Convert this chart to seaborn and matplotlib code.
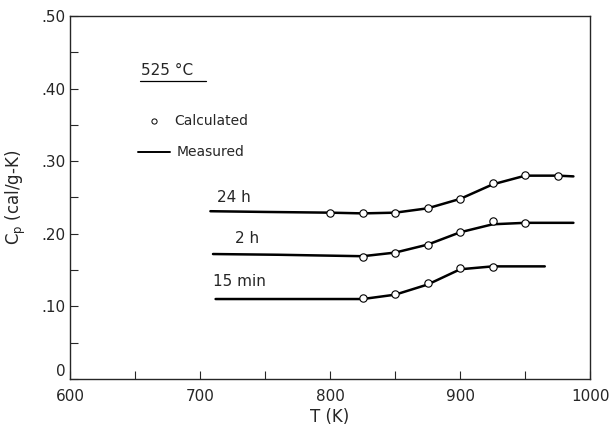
import numpy as np
import pandas as pd
import seaborn as sns
import matplotlib.pyplot as plt

# Calculated points (T in K, Cp in cal/g-K)
calc_T_24h = [800, 825, 850, 875, 900, 925, 950, 975]
calc_cp_24h = [0.229, 0.228, 0.229, 0.235, 0.248, 0.270, 0.281, 0.280]
calc_T_2h = [825, 850, 875, 900, 925, 950]
calc_cp_2h = [0.168, 0.174, 0.185, 0.203, 0.218, 0.215]
calc_T_15m = [825, 850, 875, 900, 925]
calc_cp_15m = [0.111, 0.117, 0.132, 0.153, 0.154]

# Measured curves
meas_T_24h = [708, 750, 800, 825, 850, 875, 900, 925, 950, 975, 987]
meas_cp_24h = [0.231, 0.230, 0.229, 0.228, 0.229, 0.235, 0.248, 0.268, 0.280, 0.280, 0.279]
meas_T_2h = [710, 760, 825, 850, 875, 900, 925, 950, 987]
meas_cp_2h = [0.172, 0.171, 0.169, 0.174, 0.185, 0.202, 0.213, 0.215, 0.215]
meas_T_15m = [712, 800, 825, 850, 875, 900, 925, 965]
meas_cp_15m = [0.110, 0.110, 0.110, 0.116, 0.130, 0.151, 0.155, 0.155]

curve_labels = ["24 h", "2 h", "15 min"]
label_pos = [(726, 0.240), (736, 0.183), (730, 0.124)]

sns.set_style("ticks")
plt.rcParams["font.family"] = ["DejaVu Sans"]

fig = plt.figure(figsize=(6.13, 4.32), dpi=100)
ax = fig.add_axes([0.114, 0.123, 0.849, 0.840])

for T, cp in [(meas_T_24h, meas_cp_24h), (meas_T_2h, meas_cp_2h), (meas_T_15m, meas_cp_15m)]:
    sns.lineplot(x=T, y=cp, ax=ax, color="black", linewidth=1.8, sort=False, zorder=2)

for T, cp in [(calc_T_24h, calc_cp_24h), (calc_T_2h, calc_cp_2h), (calc_T_15m, calc_cp_15m)]:
    sns.scatterplot(x=T, y=cp, ax=ax, marker="o", s=28, facecolor="white",
                    edgecolor="black", linewidth=0.8, zorder=3)

for lab, (x, y) in zip(curve_labels, label_pos):
    ax.text(x, y, lab, ha="center", va="bottom", fontsize=11)

# annotation / legend
ax.text(655, 0.415, "525 °C", fontsize=11, ha="left", va="bottom")
ax.plot([654, 705], [0.411, 0.411], color="black", linewidth=0.9)
ax.scatter([665], [0.355], marker="o", s=14, facecolor="white", edgecolor="black", linewidth=0.7)
ax.text(680, 0.355, "Calculated", fontsize=10, va="center")
ax.plot([652, 677], [0.312, 0.312], color="black", linewidth=1.4)
ax.text(682, 0.312, "Measured", fontsize=10, va="center")

ax.set_xlim(600, 1000)
ax.set_ylim(0, 0.5)
ax.set_xticks([600, 700, 800, 900, 1000])
ax.set_xticks(np.arange(650, 1000, 100), minor=True)
ax.set_yticks([0, 0.1, 0.2, 0.3, 0.4, 0.5])
ax.set_yticklabels(["0", ".10", ".20", ".30", ".40", ".50"])
ax.set_yticks(np.arange(0.05, 0.5, 0.1), minor=True)
ax.tick_params(which="both", direction="in", top=False, right=False, labelsize=11, width=0.8)
ax.tick_params(which="both", length=6)
ax.tick_params(axis="x", pad=7)
ax.tick_params(axis="y", pad=3)
ax.get_yticklabels()[0].set_verticalalignment("bottom")
for s in ax.spines.values():
    s.set_linewidth(1.0)

ax.set_xlabel("T (K)", fontsize=12, labelpad=3)
ax.set_ylabel(r"C$_\mathregular{p}$ (cal/g-K)", fontsize=12, labelpad=10)

fig.savefig("out.png", dpi=100)
